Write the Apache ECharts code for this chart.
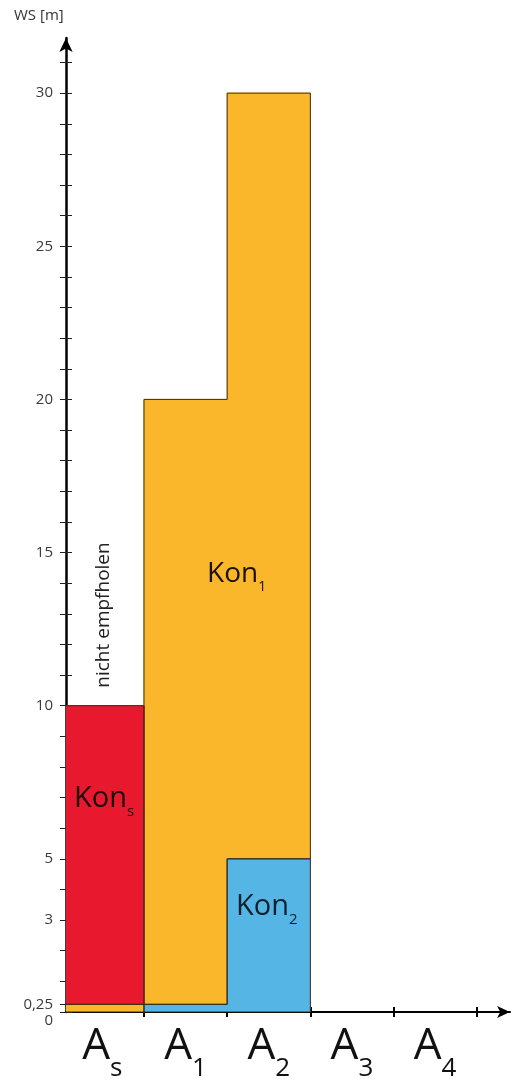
<!DOCTYPE html>
<html lang="de">
<head>
<meta charset="UTF-8">
<title>WS</title>
<script src="https://cdn.jsdelivr.net/npm/echarts@6/dist/echarts.min.js"></script>
</head>
<body style="margin:0;background:#fff">
<div id="container" style="width:512px;height:1079px"></div>
<script type="text/javascript">
// Index von A (A_s, A_1 ...)
var catNames = ['s', '1', '2', '3', '4'];
var xLabelValues = [0.5, 1.5, 2.5, 3.5, 4.5];
var xTickValues = [1, 2, 3, 4, 5];
var yLabelValues = [0, 0.25, 3, 5, 10, 15, 20, 25, 30];
var yTickValues = [0, 0.25, 1, 2, 3, 4, 5, 6, 7, 8, 9, 10, 11, 12, 13, 14, 15, 16,
    17, 18, 19, 20, 21, 22, 23, 24, 25, 26, 27, 28, 29, 30, 31];

// Abschnitte: [Spalte, von, bis]
var konS = [[0, 0.25, 10]];
var kon1 = [[0, 0, 0.25], [1, 0.25, 20], [2, 5, 30]];
var kon2 = [[1, 0, 0.25], [2, 0, 5]];

var dom = document.getElementById('container');
var myChart = echarts.init(dom);

// Rechteck pro Abschnitt
var renderRect = function (params, api) {
    var i = api.value(0);
    var p0 = api.coord([i, api.value(1)]);
    var p1 = api.coord([i + 1, api.value(2)]);
    var c = api.visual('color');
    return {
        type: 'rect',
        shape: {x: p0[0], y: p1[1], width: p1[0] - p0[0], height: p0[1] - p1[1]},
        style: {fill: c, stroke: c, lineWidth: 1}
    };
};

// Umriss der Treppenfläche
var outline = function (segs) {
    var pts = [];
    for (var j = 0; j < segs.length; j++) {
        pts.push([segs[j][0], segs[j][1]]);
        pts.push([segs[j][0] + 1, segs[j][1]]);
    }
    for (var k = segs.length - 1; k >= 0; k--) {
        pts.push([segs[k][0] + 1, segs[k][2]]);
        pts.push([segs[k][0], segs[k][2]]);
    }
    pts.push(pts[0]);
    return pts;
};

var outlineSeries = function (segs) {
    return {
        type: 'line',
        data: outline(segs),
        symbol: 'none',
        silent: true,
        z: 5,
        lineStyle: {color: '#3f2c14', width: 1}
    };
};

var rectSeries = function (segs, color) {
    return {
        type: 'custom',
        renderItem: renderRect,
        data: segs,
        clip: true,
        itemStyle: {color: color},
        silent: true,
        z: 2
    };
};

var fontFamily = '"Open Sans", "Noto Sans", sans-serif';

var option = {
    backgroundColor: '#fff',
    animation: false,
    textStyle: {fontFamily: fontFamily},
    grid: {left: 66, right: 2, top: 38, bottom: 67, containLabel: false, outerBoundsMode: 'none'},
    xAxis: [{
        type: 'value',
        min: 0.0625,
        max: 5.4,
        splitLine: {show: false},
        axisLine: {
            show: true,
            symbol: ['none', 'arrow'],
            symbolSize: [9, 13],
            lineStyle: {color: '#000', width: 2}
        },
        axisTick: {show: true, customValues: xTickValues, length: 5, lineStyle: {color: '#000', width: 2}},
        axisLabel: {
            customValues: xLabelValues,
            margin: 12,
            formatter: function (v) {
                return '{a|A}{b|' + catNames[Math.floor(v)] + '}';
            },
            rich: {
                a: {fontSize: 44, color: '#111', fontFamily: fontFamily, verticalAlign: 'bottom', padding: [0, 0, 14, 0]},
                b: {fontSize: 26, color: '#111', fontFamily: fontFamily, verticalAlign: 'bottom'}
            }
        }
    }, {
        type: 'value',
        min: 0.0625,
        max: 5.4,
        position: 'bottom',
        splitLine: {show: false},
        axisLine: {show: false},
        axisLabel: {show: false},
        axisTick: {show: true, inside: true, customValues: xTickValues, length: 5, lineStyle: {color: '#000', width: 2}}
    }],
    yAxis: [{
        type: 'value',
        min: 0,
        max: 31.8,
        position: 'left',
        splitLine: {show: false},
        axisLine: {
            show: true,
            onZero: false,
            symbol: ['none', 'arrow'],
            symbolSize: [10, 14],
            lineStyle: {color: '#000', width: 2.5}
        },
        axisTick: {show: true, customValues: yTickValues, length: 6, lineStyle: {color: '#222', width: 1}},
        axisLabel: {
            customValues: yLabelValues,
            hideOverlap: false,
            margin: 13,
            color: '#3a3a3a',
            fontSize: 15,
            formatter: function (v) {
                if (v === 0) return '{z|0}';
                return String(v).replace('.', ',');
            },
            rich: {
                z: {fontSize: 15, color: '#3a3a3a', padding: [18, 0, 0, 0]}
            }
        }
    }, {
        type: 'value',
        min: 0,
        max: 31.8,
        position: 'left',
        splitLine: {show: false},
        axisLine: {show: false, onZero: false},
        axisLabel: {show: false},
        axisTick: {show: true, inside: true, customValues: yTickValues, length: 6, lineStyle: {color: '#222', width: 1}}
    }],
    graphic: [
        {type: 'text', left: 14, top: 8, style: {text: 'WS [m]', fontSize: 15, fill: '#333', fontFamily: fontFamily}},
        {
            type: 'text', x: 104, y: 615, rotation: Math.PI / 2, z: 10,
            style: {text: 'nicht empfholen', fontSize: 19, fill: '#222', align: 'center', verticalAlign: 'middle', fontFamily: fontFamily}
        },
        {
            type: 'text', x: 74, y: 802, z: 10,
            style: {
                text: '{k|Kon}{s|s}', verticalAlign: 'middle',
                rich: {
                    k: {fontSize: 29, fill: '#1a0a0a', fontFamily: fontFamily, verticalAlign: 'bottom', padding: [0, 0, 6, 0]},
                    s: {fontSize: 15, fill: '#1a0a0a', fontFamily: fontFamily, verticalAlign: 'bottom'}
                }
            }
        },
        {
            type: 'text', x: 207, y: 577, z: 10,
            style: {
                text: '{k|Kon}{s|1}', verticalAlign: 'middle',
                rich: {
                    k: {fontSize: 28, fill: '#1a1208', fontFamily: fontFamily, verticalAlign: 'bottom', padding: [0, 0, 6, 0]},
                    s: {fontSize: 14, fill: '#1a1208', fontFamily: fontFamily, verticalAlign: 'bottom'}
                }
            }
        },
        {
            type: 'text', x: 236, y: 910, z: 10,
            style: {
                text: '{k|Kon}{s|2}', verticalAlign: 'middle',
                rich: {
                    k: {fontSize: 29, fill: '#10202c', fontFamily: fontFamily, verticalAlign: 'bottom', padding: [0, 0, 6, 0]},
                    s: {fontSize: 15, fill: '#10202c', fontFamily: fontFamily, verticalAlign: 'bottom'}
                }
            }
        }
    ],
    series: [
        rectSeries(kon1, '#fbb72c'),
        rectSeries(kon2, '#55b5e5'),
        rectSeries(konS, '#e8192f'),
        outlineSeries(kon1),
        outlineSeries(kon2),
        outlineSeries(konS)
    ]
};

if (option && typeof option === 'object') {
    myChart.setOption(option, true);
}
</script>
</body>
</html>
